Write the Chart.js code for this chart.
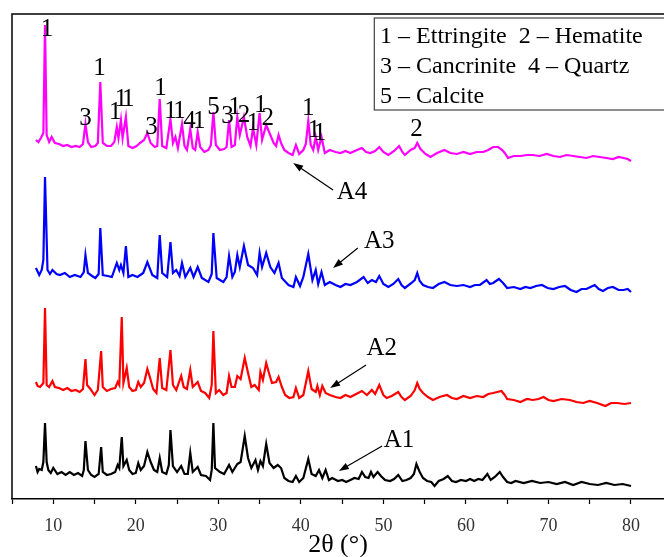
<!DOCTYPE html>
<html lang="en">
<head>
    <meta charset="UTF-8">
    <title>XRD patterns A1-A4</title>
    <script src="https://cdn.jsdelivr.net/npm/chart.js@4.4.0/dist/chart.umd.min.js"></script>
    <style>
        body { margin: 0; background: #fff; }
    </style>
</head>
<body>
<canvas id="xrd" width="664" height="557"></canvas>
<script>

    // 2theta (deg), intensity (a.u.)
    const a1 = [[7.9,27],[8.1,21],[8.3,24],[8.6,23],[8.8,31],[9.0,70],[9.2,31],[9.4,23],[9.7,20],[10.0,25],[10.5,19],[11.0,21],[11.5,18],[12.0,21],[12.5,18],[13.0,20],[13.5,17],[13.7,23],[13.9,52],[14.2,23],[14.6,18],[15.0,16],[15.5,19],[15.8,46],[16.0,21],[16.5,18],[17.0,19],[17.5,21],[17.8,28],[18.0,25],[18.3,56],[18.5,27],[18.9,33],[19.2,23],[19.6,19],[20.0,20],[20.3,30],[20.6,23],[21.0,27],[21.4,41],[21.8,31],[22.2,23],[22.6,21],[22.9,35],[23.2,21],[23.7,19],[24.0,28],[24.2,63],[24.5,27],[25.0,21],[25.5,27],[25.9,19],[26.3,19],[26.6,40],[26.9,21],[27.5,26],[27.9,18],[28.5,17],[29.0,13],[29.2,23],[29.4,70],[29.6,25],[30.2,21],[30.7,19],[31.3,28],[31.7,21],[32.3,29],[32.7,31],[33.2,57],[33.6,35],[34.0,25],[34.5,33],[34.8,23],[35.1,32],[35.4,27],[35.8,49],[36.2,30],[36.7,25],[37.2,28],[37.6,25],[38.0,15],[38.5,12],[39.0,11],[39.4,17],[39.8,11],[40.3,15],[40.9,34],[41.3,19],[41.8,17],[42.2,23],[42.6,15],[43.0,23],[43.4,13],[43.8,15],[44.5,12],[45.0,13],[45.5,11],[46.0,13],[46.5,15],[47.0,14],[47.4,21],[47.8,16],[48.2,15],[48.5,21],[48.8,16],[49.3,21],[49.7,17],[50.2,13],[50.8,12],[51.3,14],[51.8,18],[52.3,12],[52.8,13],[53.3,15],[53.7,19],[54.0,29],[54.4,21],[54.8,15],[55.3,12],[55.8,11],[56.2,7],[56.7,12],[57.3,14],[57.8,17],[58.3,12],[58.8,11],[59.4,13],[60.0,12],[60.5,14],[61.0,12],[61.5,14],[62.0,13],[62.6,19],[63.0,13],[63.5,16],[64.1,21],[64.5,16],[65.0,11],[65.5,10],[66.0,12],[67.0,10],[68.0,12],[69.0,10],[70.0,11],[71.0,9],[72.0,11],[73.0,8],[74.0,11],[75.0,9],[76.0,8],[77.0,10],[78.0,8],[79.0,9],[80.0,7]];

    const a2 = [[7.9,27],[8.1,23],[8.4,22],[8.8,26],[9.0,101],[9.2,24],[9.5,22],[9.9,28],[10.2,22],[10.7,21],[11.2,19],[11.7,21],[12.2,18],[12.7,19],[13.2,17],[13.6,20],[13.9,50],[14.1,24],[14.5,20],[15.0,14],[15.4,19],[15.8,58],[16.0,22],[16.5,18],[17.0,20],[17.5,21],[17.8,27],[18.0,24],[18.3,92],[18.5,26],[18.9,41],[19.2,22],[19.6,18],[20.0,19],[20.3,27],[20.6,22],[21.0,26],[21.4,40],[21.7,32],[22.1,20],[22.5,16],[22.9,51],[23.2,21],[23.7,19],[24.2,59],[24.5,24],[24.9,19],[25.5,33],[25.8,22],[26.2,20],[26.6,39],[26.9,22],[27.5,27],[27.9,18],[28.4,16],[28.9,11],[29.2,24],[29.4,78],[29.7,16],[30.1,19],[30.6,14],[31.0,16],[31.3,33],[31.6,22],[32.0,22],[32.3,33],[32.7,30],[33.2,51],[33.6,36],[34.0,22],[34.4,24],[34.9,19],[35.1,37],[35.4,29],[35.8,46],[36.1,37],[36.5,26],[37.0,27],[37.3,32],[37.7,22],[38.1,14],[38.6,11],[39.1,12],[39.4,21],[39.8,11],[40.3,14],[40.9,38],[41.3,20],[41.8,17],[42.0,23],[42.3,14],[42.6,23],[43.0,16],[43.5,14],[44.2,12],[44.8,11],[45.4,14],[46.0,12],[46.7,15],[47.4,18],[48.0,14],[48.6,19],[49.0,15],[49.5,24],[50.0,14],[50.4,11],[51.0,13],[51.8,17],[52.2,12],[52.6,9],[53.3,13],[53.8,19],[54.1,26],[54.4,20],[54.8,16],[55.4,12],[56.0,9],[56.8,12],[57.7,14],[58.3,11],[58.9,10],[59.7,13],[60.5,11],[61.3,13],[62.1,12],[62.7,15],[63.3,16],[63.8,17],[64.3,18],[64.7,14],[65.0,10],[65.8,9],[66.6,7],[67.4,10],[68.1,9],[68.8,10],[69.4,12],[70.0,9],[70.6,8],[71.6,10],[72.6,9],[73.4,7],[74.2,6],[75.0,8],[75.9,6],[76.9,3],[77.6,6],[78.3,6],[79.2,5],[80.0,6]];

    const a3 = [[7.9,27],[8.3,20],[8.6,25],[8.8,35],[9.0,118],[9.3,25],[9.6,21],[9.9,25],[10.4,21],[10.8,20],[11.4,22],[12.0,18],[12.6,20],[13.3,18],[13.7,23],[13.9,40],[14.2,22],[14.7,19],[15.1,17],[15.5,21],[15.7,67],[16.0,20],[16.6,19],[17.1,18],[17.7,32],[18.0,25],[18.2,30],[18.5,22],[18.8,49],[19.1,18],[19.6,20],[20.2,18],[20.9,22],[21.4,33],[22.0,20],[22.6,17],[22.9,60],[23.2,22],[23.8,18],[24.2,53],[24.5,22],[24.9,25],[25.3,19],[25.6,32],[26.0,18],[26.6,27],[27.0,18],[27.5,28],[28.0,17],[28.8,13],[29.2,21],[29.4,62],[29.8,17],[30.6,13],[31.0,18],[31.3,39],[31.7,18],[32.0,23],[32.3,40],[32.6,28],[33.1,49],[33.6,30],[34.2,27],[34.7,20],[35.0,42],[35.3,28],[35.8,42],[36.3,28],[36.8,22],[37.3,32],[37.7,17],[38.5,10],[39.1,8],[39.4,18],[39.9,9],[40.3,18],[40.9,41],[41.4,15],[41.8,25],[42.1,11],[42.5,23],[42.9,10],[43.5,13],[44.2,10],[44.8,8],[45.4,11],[46.0,10],[46.8,13],[47.6,18],[48.1,12],[48.6,15],[49.1,13],[49.5,19],[50.0,11],[50.6,8],[51.2,11],[51.8,16],[52.2,10],[52.6,7],[53.4,12],[53.8,15],[54.1,22],[54.4,14],[54.8,10],[55.4,8],[56.0,7],[56.7,11],[57.4,13],[58.1,10],[58.9,9],[59.7,10],[60.5,8],[61.1,10],[61.7,10],[62.5,15],[62.9,11],[63.3,12],[64.0,16],[64.5,12],[65.0,7],[65.8,8],[66.6,6],[67.2,8],[67.8,7],[68.5,9],[69.2,10],[69.9,7],[70.6,6],[71.3,8],[72.0,9],[72.7,5],[73.4,3],[74.0,6],[74.6,6],[75.1,8],[75.6,10],[76.1,6],[76.6,4],[77.2,7],[77.8,8],[78.5,5],[79.1,5],[79.6,6],[80.0,3]];

    const a4 = [[7.9,23],[8.2,21],[8.5,25],[8.8,30],[9.0,138],[9.2,28],[9.5,21],[9.8,26],[10.2,20],[10.7,19],[11.2,17],[11.7,18],[12.2,16],[12.7,17],[13.2,16],[13.6,19],[13.9,39],[14.2,21],[14.6,16],[15.1,17],[15.4,20],[15.7,81],[16.0,20],[16.5,17],[17.0,17],[17.4,21],[17.7,36],[17.9,25],[18.2,43],[18.4,25],[18.8,46],[19.1,17],[19.6,15],[20.1,17],[20.5,20],[21.0,23],[21.4,30],[21.8,20],[22.3,16],[22.6,17],[22.9,64],[23.2,17],[23.7,15],[24.2,44],[24.5,20],[24.8,26],[25.1,15],[25.6,39],[25.9,17],[26.2,13],[26.6,34],[26.9,15],[27.2,13],[27.5,31],[27.8,16],[28.3,11],[28.8,13],[29.1,18],[29.4,51],[29.7,18],[30.2,13],[30.7,14],[31.0,16],[31.3,43],[31.6,16],[32.0,18],[32.3,46],[32.6,28],[33.1,46],[33.5,26],[33.9,17],[34.2,35],[34.6,18],[35.0,50],[35.3,23],[35.8,38],[36.2,30],[36.7,20],[37.0,17],[37.3,28],[37.6,20],[38.0,13],[38.5,10],[39.0,8],[39.4,18],[39.8,9],[40.3,13],[40.6,19],[40.9,42],[41.2,18],[41.5,13],[41.8,26],[42.1,13],[42.5,26],[42.9,10],[43.5,13],[44.2,11],[44.8,10],[45.4,12],[46.0,10],[46.8,13],[47.4,15],[47.9,11],[48.4,10],[49.0,12],[49.5,16],[50.0,11],[50.6,8],[51.3,12],[51.9,17],[52.3,11],[52.6,8],[53.3,13],[53.8,15],[54.1,20],[54.5,14],[55.1,9],[55.7,6],[56.5,10],[57.4,13],[58.1,10],[58.9,9],[59.7,11],[60.5,9],[61.3,11],[62.1,11],[62.7,13],[63.3,16],[63.9,16],[64.4,13],[64.7,10],[65.1,5],[65.8,7],[66.6,7],[67.4,8],[68.1,8],[68.9,7],[69.8,9],[70.6,7],[71.4,6],[72.2,8],[73.0,7],[73.8,6],[74.6,5],[75.4,7],[76.2,6],[77.0,5],[77.8,4],[78.5,6],[79.1,5],[79.6,4],[80.0,2]];

    const samples = ['A1', 'A2', 'A3', 'A4'];
    const offsets = [6, 90, 204, 336];
    const colors = ['#000000', '#ff0000', '#0000ff', '#ff00ff'];
    const xTickValues = [5, 10, 15, 20, 25, 30, 35, 40, 45, 50, 55, 60, 65, 70, 75, 80];

    // phase marks above the A4 pattern: [2theta, height, text]
    const phaseMarks = [
        [9.25, 470, '1'], [13.9, 381, '3'], [15.6, 431, '1'], [17.5, 387, '1'],
        [18.2, 400, '1'], [19.1, 400, '1'], [21.9, 372, '3'], [23.0, 411, '1'],
        [24.2, 388, '1'], [25.3, 388, '1'], [26.5, 378, '4'], [27.7, 378, '1'],
        [29.4, 392, '5'], [31.1, 383, '3'], [32.0, 392, '1'], [33.1, 384, '2'],
        [34.2, 376, '1'], [35.1, 394, '1'], [36.0, 381, '2'], [40.9, 391, '1'],
        [41.6, 369, '1'], [42.3, 366, '1'], [54.0, 370, '2']
    ];
    // sample tags: label position, arrow tail, arrow tip
    const sampleTags = [
        [[51.9, 59], [49.85, 53], [44.6, 28]],
        [[49.8, 151], [47.9, 134], [43.55, 111]],
        [[49.5, 258], [46.9, 251], [43.9, 231]],
        [[46.2, 307], [43.9, 309], [39.07, 336]]
    ];
    const phaseKey = ['1 – Ettringite  2 – Hematite', '3 – Cancrinite  4 – Quartz', '5 – Calcite'];

    const serif = '"Liberation Serif", "Times New Roman", serif';

    const datasets = [a1, a2, a3, a4].map(function (pts, i) {
        return {
            label: samples[i],
            data: pts.map(p => ({x: p[0], y: p[1] + offsets[i]})),
            borderColor: colors[i],
            borderWidth: 2.2,
            borderJoinStyle: 'miter',
            pointRadius: 0,
            tension: 0,
            fill: false
        };
    });

    const decorations = {
        id: 'decorations',
        afterDatasetsDraw(chart) {
            const ctx = chart.ctx;
            const xs = chart.scales.x, ys = chart.scales.y;
            const area = chart.chartArea;
            ctx.save();

            // frame: left and top
            ctx.strokeStyle = '#000';
            ctx.lineWidth = 1.5;
            ctx.beginPath();
            ctx.moveTo(area.left, area.bottom);
            ctx.lineTo(area.left, area.top);
            ctx.lineTo(area.right, area.top);
            ctx.stroke();

            ctx.fillStyle = '#000';
            ctx.textAlign = 'center';
            ctx.textBaseline = 'middle';
            ctx.font = '25px ' + serif;
            phaseMarks.forEach(function (m) {
                ctx.fillText(m[2], xs.getPixelForValue(m[0]), ys.getPixelForValue(m[1]));
            });

            // sample tags with arrows
            ctx.font = '25px ' + serif;
            sampleTags.forEach(function (t, i) {
                ctx.fillText(samples[i], xs.getPixelForValue(t[0][0]), ys.getPixelForValue(t[0][1]));
                const x0 = xs.getPixelForValue(t[1][0]), y0 = ys.getPixelForValue(t[1][1]);
                const x1 = xs.getPixelForValue(t[2][0]), y1 = ys.getPixelForValue(t[2][1]);
                const ang = Math.atan2(y1 - y0, x1 - x0);
                const hl = 10, hw = 3.5;
                ctx.lineWidth = 1.2;
                ctx.beginPath();
                ctx.moveTo(x0, y0);
                ctx.lineTo(x1 - Math.cos(ang) * hl * 0.8, y1 - Math.sin(ang) * hl * 0.8);
                ctx.stroke();
                ctx.beginPath();
                ctx.moveTo(x1, y1);
                ctx.lineTo(x1 - Math.cos(ang) * hl - Math.sin(ang) * hw, y1 - Math.sin(ang) * hl + Math.cos(ang) * hw);
                ctx.lineTo(x1 - Math.cos(ang) * hl + Math.sin(ang) * hw, y1 - Math.sin(ang) * hl - Math.cos(ang) * hw);
                ctx.closePath();
                ctx.fill();
            });

            // phase key box
            const bx = xs.getPixelForValue(48.9);
            const by0 = ys.getPixelForValue(481), by1 = ys.getPixelForValue(389);
            ctx.strokeStyle = '#444';
            ctx.lineWidth = 1.2;
            ctx.strokeRect(bx, by0, area.right + 10 - bx, by1 - by0);
            ctx.font = '24px ' + serif;
            ctx.textAlign = 'left';
            const tx = xs.getPixelForValue(49.6);
            phaseKey.forEach(function (line, i) {
                ctx.fillText(line, tx, ys.getPixelForValue(462 - i * 30));
            });

            ctx.restore();
        }
    };

    new Chart(document.getElementById('xrd'), {
        type: 'line',
        data: {datasets: datasets},
        options: {
            responsive: false,
            animation: false,
            layout: {padding: {left: 12, top: 14, right: 0, bottom: 0}},
            plugins: {legend: {display: false}, tooltip: {enabled: false}},
            scales: {
                x: {
                    type: 'linear',
                    min: 5,
                    max: 84,
                    afterBuildTicks: function (s) { s.ticks = xTickValues.map(v => ({value: v})); },
                    afterFit: function (s) { s.height = 58; },
                    ticks: {
                        autoSkip: false,
                        maxRotation: 0,
                        padding: 11,
                        color: '#333',
                        font: {family: serif, size: 18},
                        callback: v => (v % 10 === 0 ? v : '')
                    },
                    grid: {drawOnChartArea: false, drawTicks: true, tickLength: 5, tickColor: '#000', tickWidth: 1.2},
                    border: {display: true, color: '#000', width: 1.5},
                    title: {display: true, text: '2θ (°)', color: '#000', font: {family: serif, size: 26}, padding: {top: 0, bottom: -4}}
                },
                y: {display: false, min: 0, max: 485}
            }
        },
        plugins: [decorations]
    });
</script>
</body>
</html>
